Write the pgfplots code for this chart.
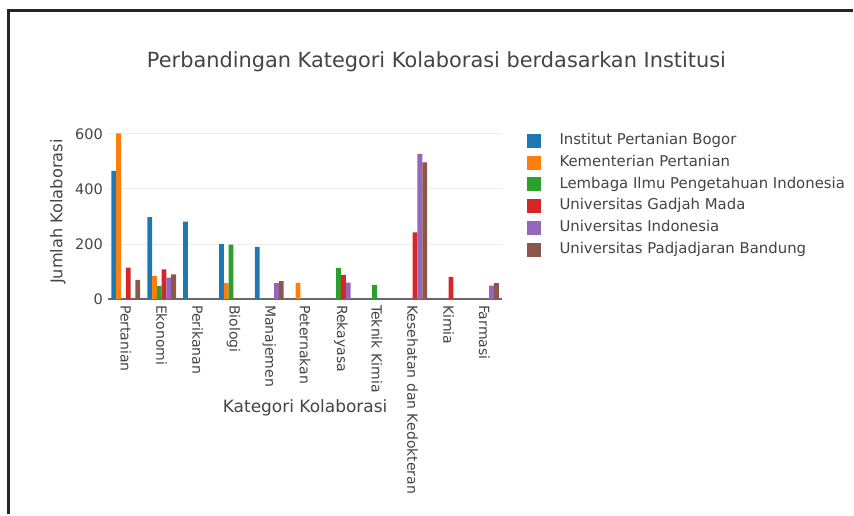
\documentclass[border=0pt]{standalone}
\usepackage{pgfplots}
\pgfplotsset{compat=1.18}
\usepackage{fontspec}
\setmainfont{DejaVu Sans}
\definecolor{c1}{HTML}{1F77B4}
\definecolor{c2}{HTML}{FF7F0E}
\definecolor{c3}{HTML}{2CA02C}
\definecolor{c4}{HTML}{D62728}
\definecolor{c5}{HTML}{9467BD}
\definecolor{c6}{HTML}{8C564B}
\definecolor{txt}{HTML}{444444}
\definecolor{gridc}{HTML}{EEEEEE}
\begin{document}
\begin{tikzpicture}
\path (0bp,0bp) rectangle (854bp,515bp);
\draw[line width=2.2bp, color=black!85] (8.5bp,0bp) -- (8.5bp,504.5bp) -- (854bp,504.5bp);
\node[font=\fontsize{20.9bp}{24bp}\selectfont, text=txt] at (437bp,453bp) {Perbandingan Kategori Kolaborasi berdasarkan Institusi};
\node[font=\fontsize{16.2bp}{19bp}\selectfont, text=txt, rotate=90] at (58bp,303bp) {Jumlah Kolaborasi};
\node[font=\fontsize{17bp}{20bp}\selectfont, text=txt] at (305.5bp,107bp) {Kategori Kolaborasi};
\begin{axis}[
  at={(108bp,215.5bp)}, anchor=south west, scale only axis,
  width=395bp, height=174.8bp,
  xmin=-0.5, xmax=10.5, ymin=0, ymax=634,
  ybar=0pt, bar width=0.13333,
  axis x line*=bottom, axis y line*=left,
  x axis line style={-, color=txt!80, line width=1.6bp},
  y axis line style={draw=none},
  major tick length=0pt,
  xtick={0,1,2,3,4,5,6,7,8,9,10},
  xticklabels={Pertanian,Ekonomi,Perikanan,Biologi,Manajemen,Peternakan,Rekayasa,Teknik Kimia,Kesehatan dan Kedokteran,Kimia,Farmasi},
  ytick={0,200,400,600},
  ymajorgrids, grid style={color=gridc, line width=1bp},
  xticklabel style={rotate=-90, anchor=west, inner sep=0pt, outer sep=6bp, font=\fontsize{14.05bp}{17bp}\selectfont, text=txt},
  yticklabel style={anchor=east, inner sep=0pt, outer sep=5bp, font=\fontsize{14.5bp}{17bp}\selectfont, text=txt},
  /pgf/number format/assume math mode=true,
  legend cell align=left,
  legend style={at={(axis description cs:1.0608,0.948)}, anchor=north west, draw=none, fill=none, inner sep=0pt,
    font=\fontsize{14.9bp}{17bp}\selectfont, text=txt,
    nodes={inner sep=0pt, text height=10.5bp, text depth=3bp},
    row sep=7.8bp,
    /tikz/every odd column/.append style={column sep=19bp}},
  legend image code/.code={\path[#1, draw=none] (0bp,-7bp) rectangle (14bp,7bp);},
]
\addplot[fill=c1, draw=none] coordinates {(0,466) (1,298) (2,281) (3,200) (4,190)};
\addplot[fill=c2, draw=none] coordinates {(0,602) (1,84) (3,58) (5,59)};
\addplot[fill=c3, draw=none] coordinates {(1,48) (3,198) (6,113) (7,52)};
\addplot[fill=c4, draw=none] coordinates {(0,114) (1,108) (6,88) (8,242) (9,81)};
\addplot[fill=c5, draw=none] coordinates {(1,78) (4,58) (6,60) (8,527) (10,49)};
\addplot[fill=c6, draw=none] coordinates {(0,70) (1,90) (4,65) (8,497) (10,58)};
\legend{Institut Pertanian Bogor,Kementerian Pertanian,Lembaga Ilmu Pengetahuan Indonesia,Universitas Gadjah Mada,Universitas Indonesia,Universitas Padjadjaran Bandung}
\end{axis}
\end{tikzpicture}
\end{document}
